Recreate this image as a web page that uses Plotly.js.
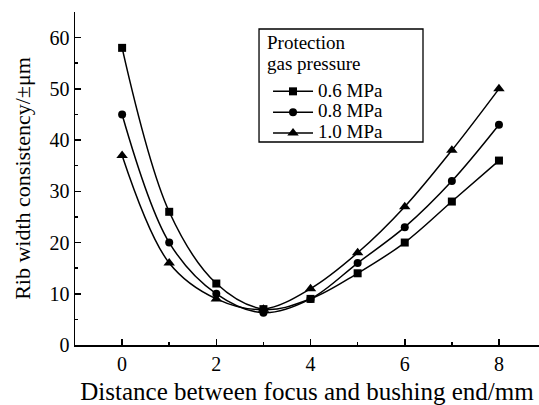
<!DOCTYPE html>
<html><head><meta charset="utf-8">
<script src="https://cdn.plot.ly/plotly-3.0.1.min.js"></script>
<style>html,body{margin:0;padding:0;background:#fff}#c{width:539px;height:405px}</style>
</head><body><div id="c"></div>
<script>
const distance = [0, 1, 2, 3, 4, 5, 6, 7, 8];
const p06 = [58, 26, 12, 7, 9, 14, 20, 28, 36];
const p08 = [45, 20, 10, 6.3, 9, 16, 23, 32, 43];
const p10 = [37, 16, 9, 7, 11, 18, 27, 38, 50];
const names = ['0.6 MPa', '0.8 MPa', '1.0 MPa'];
const legendTitle = ['Protection', 'gas pressure'];
const symbols = ['square', 'circle', 'triangle-up'];
const sizes = [8, 8, 10];
const series = [p06, p08, p10];

const traces = series.map((s, i) => ({
  x: distance, y: s, name: '<span style="font-size:19px">' + names[i] + '</span>',
  type: 'scatter', mode: 'lines+markers',
  line: {color: '#000', width: 1.5, shape: 'spline', smoothing: 1},
  marker: {symbol: symbols[i], size: sizes[i], color: '#000'}
}));

const fam = '"Liberation Serif", "Times New Roman", serif';
const layout = {
  width: 539, height: 405,
  margin: {l: 75, r: 0, t: 12, b: 60},
  paper_bgcolor: '#fff', plot_bgcolor: '#fff',
  font: {family: fam, color: '#000', size: 20},
  showlegend: true,
  legend: {
    x: 0.416, y: 0.808, xanchor: 'left', yanchor: 'top',
    borderwidth: 0, bgcolor: 'rgba(0,0,0,0)',
    font: {family: fam, size: 13.7, color: '#000'},
    tracegroupgap: 0, itemwidth: 40
  },
  shapes: [{type: 'rect', xref: 'paper', yref: 'paper', x0: 0.3966, x1: 0.75, y0: 0.6096, y1: 0.949,
            line: {color: '#000', width: 1.3}, fillcolor: 'rgba(0,0,0,0)', layer: 'above'}],
  annotations: legendTitle.map((t, i) => ({
    text: t, xref: 'paper', yref: 'paper', x: 0.4095, y: [0.9084, 0.8453][i],
    xanchor: 'left', yanchor: 'middle', showarrow: false,
    font: {family: fam, size: 19, color: '#000'}
  })),
  xaxis: {
    range: [-1, 8.85], showgrid: false, zeroline: false,
    showline: true, linecolor: '#000', linewidth: 1.5,
    ticks: 'inside', ticklen: 6, tickwidth: 1.5, tickcolor: '#000',
    tickvals: [0, 2, 4, 6, 8],
    minor: {dtick: 1, ticks: 'inside', ticklen: 3, tickwidth: 1.5, tickcolor: '#000', showgrid: false},
    tickfont: {size: 20},
    title: {text: 'Distance between focus and bushing end/mm', font: {size: 25}, standoff: 16}
  },
  yaxis: {
    range: [0, 65], showgrid: false, zeroline: false,
    showline: true, linecolor: '#000', linewidth: 1.5,
    ticks: 'inside', ticklen: 6, tickwidth: 1.5, tickcolor: '#000',
    tickvals: [0, 10, 20, 30, 40, 50, 60],
    minor: {dtick: 5, ticks: 'inside', ticklen: 3, tickwidth: 1.5, tickcolor: '#000', showgrid: false},
    tickfont: {size: 20},
    title: {text: 'Rib width consistency/±μm', font: {size: 22}, standoff: 13}
  }
};
Plotly.newPlot('c', traces, layout, {displayModeBar: false, staticPlot: true});
</script></body></html>
